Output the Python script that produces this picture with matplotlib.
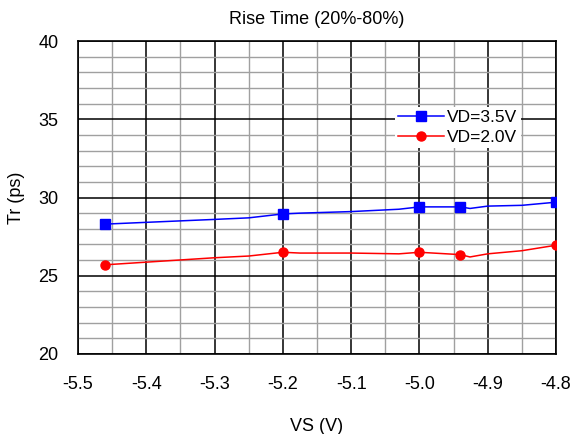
import matplotlib.pyplot as plt
from matplotlib.ticker import MultipleLocator

plt.rcParams["font.family"] = ["Liberation Sans", "DejaVu Sans"]

# ---- data ----
vs = [-5.46, -5.30, -5.25, -5.20, -5.175, -5.10, -5.03, -5.00, -4.94, -4.926, -4.90, -4.85, -4.80]
tr_35 = [28.3, 28.6, 28.7, 28.95, 29.0, 29.1, 29.25, 29.4, 29.4, 29.3, 29.45, 29.5, 29.7]
tr_20 = [25.7, 26.15, 26.26, 26.5, 26.45, 26.45, 26.4, 26.5, 26.35, 26.2, 26.4, 26.6, 26.95]
marked = [0, 3, 7, 8, 12]

fig = plt.figure(figsize=(5.71, 4.34), dpi=100)
ax = fig.add_axes([78 / 571, 80 / 434, 478 / 571, 313 / 434])

ax.plot(vs, tr_35, color="blue", lw=1.1, marker="s", ms=6.5, markevery=marked, label="VD=3.5V", zorder=3)
ax.plot(vs, tr_20, color="red", lw=1.1, marker="o", ms=6.5, markevery=marked, label="VD=2.0V", zorder=3)

ax.set_xlim(-5.5, -4.8)
ax.set_ylim(20, 40)
ax.xaxis.set_major_locator(MultipleLocator(0.1))
ax.xaxis.set_minor_locator(MultipleLocator(0.05))
ax.yaxis.set_major_locator(MultipleLocator(5))
ax.yaxis.set_minor_locator(MultipleLocator(1))
ax.set_xticks([-5.5, -5.4, -5.3, -5.2, -5.1, -5.0, -4.9, -4.8])
ax.set_xticklabels(["-5.5", "-5.4", "-5.3", "-5.2", "-5.1", "-5.0", "-4.9", "-4.8"])
ax.grid(which="major", color="black", lw=1.1)
ax.grid(which="minor", color="#a0a0a0", lw=1.0)
ax.tick_params(which="both", length=0, labelsize=13)
ax.tick_params(axis="x", pad=16)
ax.tick_params(axis="y", pad=14)
for s in ax.spines.values():
    s.set_linewidth(1.2)

ax.set_title("Rise Time (20%-80%)", fontsize=13, pad=12)
ax.set_xlabel("VS (V)", fontsize=13, labelpad=18)
ax.set_ylabel("Tr (ps)", fontsize=13, labelpad=10)

leg = ax.legend(loc="upper left", bbox_to_anchor=(0.663, 0.79), fontsize=12.5, frameon=True,
                fancybox=False, edgecolor="none", framealpha=1, borderpad=0.2,
                handlelength=2.6, handletextpad=0.2, labelspacing=0.25, borderaxespad=0)

fig.savefig("out.png", dpi=100)
